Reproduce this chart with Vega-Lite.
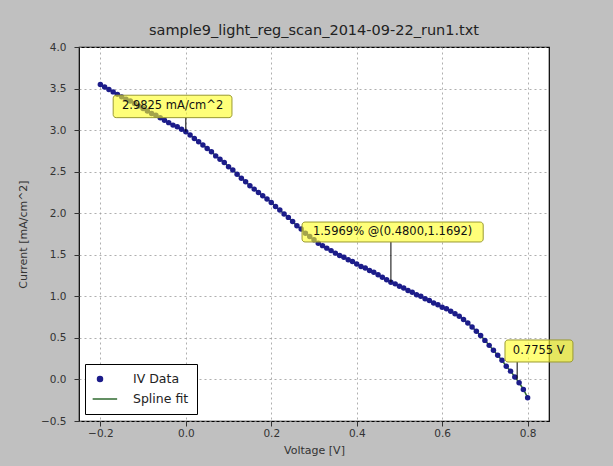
{
  "$schema": "https://vega.github.io/schema/vega-lite/v6.json",
  "autosize": "none",
  "width": 470,
  "height": 374,
  "padding": {"left": 79, "top": 47, "right": 64, "bottom": 45},
  "background": "#c0c0c0",
  "title": {"text": "sample9_light_reg_scan_2014-09-22_run1.txt", "font": "DejaVu Sans", "fontSize": 14.5, "fontWeight": "normal", "color": "#222", "offset": 4},
  "config": {
    "view": {"stroke": "black", "strokeWidth": 1.2, "fill": "white"},
    "axis": {"labelFont": "DejaVu Sans", "titleFont": "DejaVu Sans", "labelFontSize": 10.5, "titleFontSize": 11, "titleFontWeight": "normal", "labelColor": "#333", "titleColor": "#333", "tickColor": "#333", "tickSize": 5, "domain": false, "grid": true, "gridColor": "#9a9a9a", "gridDash": [2, 3], "gridWidth": 0.8}
  },
  "datasets": {
    "iv": [
      {"V": -0.20, "I": 3.55}, {"V": -0.19, "I": 3.52}, {"V": -0.18, "I": 3.49}, {"V": -0.17, "I": 3.46}, {"V": -0.16, "I": 3.43},
      {"V": -0.15, "I": 3.40}, {"V": -0.14, "I": 3.37}, {"V": -0.13, "I": 3.35}, {"V": -0.12, "I": 3.32}, {"V": -0.11, "I": 3.29},
      {"V": -0.10, "I": 3.26}, {"V": -0.09, "I": 3.23}, {"V": -0.08, "I": 3.20}, {"V": -0.07, "I": 3.18}, {"V": -0.06, "I": 3.15},
      {"V": -0.05, "I": 3.12}, {"V": -0.04, "I": 3.09}, {"V": -0.03, "I": 3.06}, {"V": -0.02, "I": 3.04}, {"V": -0.01, "I": 3.01},
      {"V": 0.00, "I": 2.98}, {"V": 0.01, "I": 2.94}, {"V": 0.02, "I": 2.90}, {"V": 0.03, "I": 2.86}, {"V": 0.04, "I": 2.82},
      {"V": 0.05, "I": 2.78}, {"V": 0.06, "I": 2.74}, {"V": 0.07, "I": 2.69}, {"V": 0.08, "I": 2.65}, {"V": 0.09, "I": 2.61},
      {"V": 0.10, "I": 2.56}, {"V": 0.11, "I": 2.52}, {"V": 0.12, "I": 2.47}, {"V": 0.13, "I": 2.42}, {"V": 0.14, "I": 2.38},
      {"V": 0.15, "I": 2.33}, {"V": 0.16, "I": 2.29}, {"V": 0.17, "I": 2.25}, {"V": 0.18, "I": 2.21}, {"V": 0.19, "I": 2.17},
      {"V": 0.20, "I": 2.13}, {"V": 0.21, "I": 2.08}, {"V": 0.22, "I": 2.04}, {"V": 0.23, "I": 1.99}, {"V": 0.24, "I": 1.95},
      {"V": 0.25, "I": 1.90}, {"V": 0.26, "I": 1.85}, {"V": 0.27, "I": 1.81}, {"V": 0.28, "I": 1.76}, {"V": 0.29, "I": 1.72},
      {"V": 0.30, "I": 1.68}, {"V": 0.31, "I": 1.64}, {"V": 0.32, "I": 1.61}, {"V": 0.33, "I": 1.58}, {"V": 0.34, "I": 1.55},
      {"V": 0.35, "I": 1.52}, {"V": 0.36, "I": 1.49}, {"V": 0.37, "I": 1.47}, {"V": 0.38, "I": 1.44}, {"V": 0.39, "I": 1.42},
      {"V": 0.40, "I": 1.39}, {"V": 0.41, "I": 1.36}, {"V": 0.42, "I": 1.34}, {"V": 0.43, "I": 1.31}, {"V": 0.44, "I": 1.29},
      {"V": 0.45, "I": 1.26}, {"V": 0.46, "I": 1.23}, {"V": 0.47, "I": 1.20}, {"V": 0.48, "I": 1.17}, {"V": 0.49, "I": 1.15},
      {"V": 0.50, "I": 1.12}, {"V": 0.51, "I": 1.10}, {"V": 0.52, "I": 1.07}, {"V": 0.53, "I": 1.05}, {"V": 0.54, "I": 1.02},
      {"V": 0.55, "I": 1.00}, {"V": 0.56, "I": 0.97}, {"V": 0.57, "I": 0.95}, {"V": 0.58, "I": 0.92}, {"V": 0.59, "I": 0.90},
      {"V": 0.60, "I": 0.87}, {"V": 0.61, "I": 0.85}, {"V": 0.62, "I": 0.82}, {"V": 0.63, "I": 0.79}, {"V": 0.64, "I": 0.76},
      {"V": 0.65, "I": 0.72}, {"V": 0.66, "I": 0.68}, {"V": 0.67, "I": 0.63}, {"V": 0.68, "I": 0.58}, {"V": 0.69, "I": 0.53},
      {"V": 0.70, "I": 0.47}, {"V": 0.71, "I": 0.41}, {"V": 0.72, "I": 0.35}, {"V": 0.73, "I": 0.29}, {"V": 0.74, "I": 0.23},
      {"V": 0.75, "I": 0.16}, {"V": 0.76, "I": 0.10}, {"V": 0.77, "I": 0.03}, {"V": 0.78, "I": -0.04}, {"V": 0.79, "I": -0.12},
      {"V": 0.80, "I": -0.22}
    ],
    "ann": [
      {"label": "2.9825 mA/cm^2", "px": 0.0, "py": 2.9825, "ax": 0.0, "ay": 3.15, "bx1": -0.17, "bx2": 0.108, "by1": 3.15, "by2": 3.42, "tx": -0.031, "ty": 3.285},
      {"label": "1.5969% @(0.4800,1.1692)", "px": 0.48, "py": 1.1692, "ax": 0.48, "ay": 1.654, "bx1": 0.272, "bx2": 0.696, "by1": 1.654, "by2": 1.894, "tx": 0.484, "ty": 1.774},
      {"label": "0.7755 V", "px": 0.7755, "py": 0.0, "ax": 0.7755, "ay": 0.21, "bx1": 0.747, "bx2": 0.906, "by1": 0.21, "by2": 0.475, "tx": 0.826, "ty": 0.343}
    ]
  },
  "encoding": {
    "x": {"type": "quantitative", "scale": {"domain": [-0.25, 0.85], "nice": false, "zero": false},
          "axis": {"title": "Voltage [V]", "values": [-0.2, 0, 0.2, 0.4, 0.6, 0.8], "format": ".1f", "labelPadding": 2, "titlePadding": 6}},
    "y": {"type": "quantitative", "scale": {"domain": [-0.5, 4.0], "nice": false, "zero": false},
          "axis": {"title": "Current [mA/cm^2]", "values": [-0.5, 0, 0.5, 1, 1.5, 2, 2.5, 3, 3.5, 4], "format": ".1f", "labelPadding": 8, "titlePadding": 12}}
  },
  "layer": [
    {"mark": {"type": "rule", "color": "#666", "strokeWidth": 1.2}, "encoding": {"x": {"datum": 0, "type": "quantitative"}}},
    {"mark": {"type": "rule", "color": "#777", "strokeWidth": 1.2}, "encoding": {"y": {"datum": 0, "type": "quantitative"}}},
    {"data": {"name": "iv"}, "mark": {"type": "line", "strokeWidth": 1.5, "interpolate": "monotone"},
     "encoding": {"x": {"field": "V"}, "y": {"field": "I"},
                  "color": {"datum": "Spline fit", "type": "nominal",
                            "scale": {"domain": ["IV Data", "Spline fit"], "range": ["#1c1c8a", "#2f6a2f"]},
                            "legend": {"title": null, "orient": "none", "legendX": 6, "legendY": 317, "padding": 8, "strokeColor": "black", "fillColor": "white", "cornerRadius": 0,
                                       "labelFont": "DejaVu Sans", "labelFontSize": 12.5, "labelColor": "#222", "symbolSize": 150, "rowPadding": 6, "labelOffset": 26, "symbolStrokeWidth": 1.5,
                                       "encode": {"symbols": {"update": {
                                         "shape": {"signal": "datum.value === 'IV Data' ? 'circle' : 'M-1.2,0H2.8'"},
                                         "size": {"signal": "datum.value === 'IV Data' ? 25 : 150"},
                                         "fill": {"signal": "datum.value === 'IV Data' ? '#1c1c8a' : 'transparent'"},
                                         "stroke": {"signal": "datum.value === 'IV Data' ? '#1c1c8a' : '#2f4f2f'"},
                                         "strokeWidth": {"value": 1.5},
                                         "opacity": {"value": 1}
                                       }}}}}}},
    {"data": {"name": "iv"}, "mark": {"type": "point", "filled": true, "size": 30, "opacity": 1},
     "encoding": {"x": {"field": "V"}, "y": {"field": "I"}, "color": {"datum": "IV Data", "type": "nominal"}}},
    {"data": {"name": "ann"}, "mark": {"type": "rule", "color": "black", "strokeWidth": 1},
     "encoding": {"x": {"field": "px"}, "y": {"field": "py"}, "x2": {"field": "ax"}, "y2": {"field": "ay"}}},
    {"data": {"name": "ann"}, "mark": {"type": "rect", "fill": "#ffff20", "fillOpacity": 0.6, "stroke": "#9a9a30", "strokeWidth": 1, "cornerRadius": 3},
     "encoding": {"x": {"field": "bx1"}, "x2": {"field": "bx2"}, "y": {"field": "by1"}, "y2": {"field": "by2"}}},
    {"data": {"name": "ann"}, "mark": {"type": "text", "font": "DejaVu Sans", "fontSize": 11.5, "color": "#111", "align": "center", "baseline": "middle"},
     "encoding": {"x": {"field": "tx"}, "y": {"field": "ty"}, "text": {"field": "label"}}}
  ]
}
